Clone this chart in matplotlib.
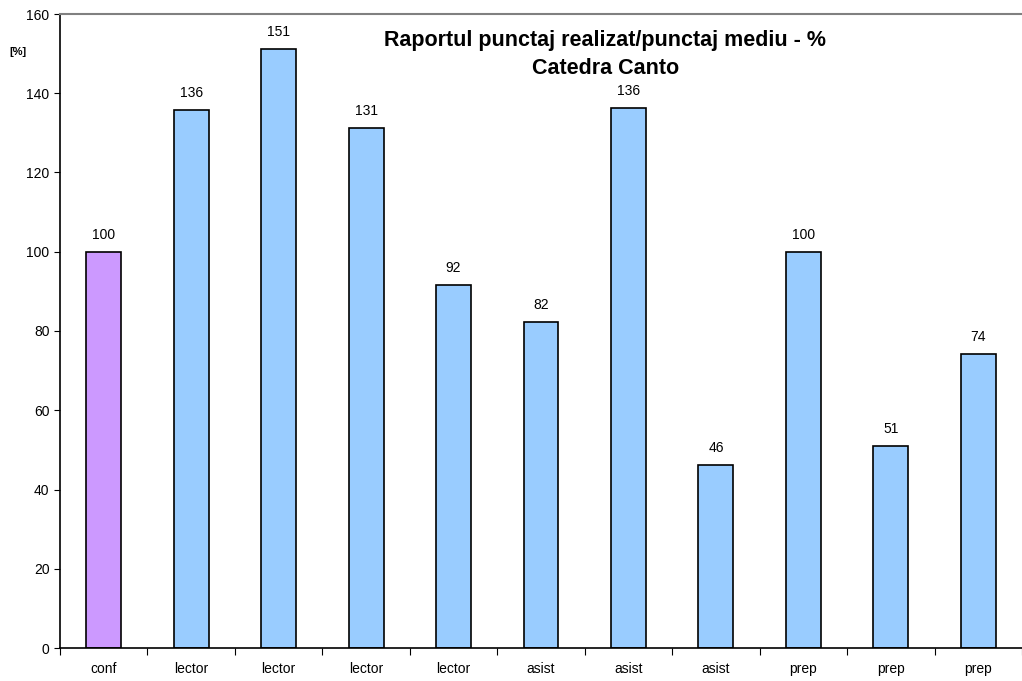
import matplotlib.pyplot as plt
import numpy as np

plt.rcParams['font.family'] = ['Liberation Sans', 'DejaVu Sans']

categorii = ["conf", "lector", "lector", "lector", "lector", "asist",
             "asist", "asist", "prep", "prep", "prep"]
valori = [100, 135.8, 151.2, 131.2, 91.6, 82.3, 136.4, 46.3, 100, 50.9, 74.2]
etichete = ["100", "136", "151", "131", "92", "82", "136", "46", "100", "51", "74"]
culori = ["#CC99FF"] + ["#99CCFF"] * 10

fig = plt.figure(figsize=(10.22, 6.81), dpi=100)
ax = fig.add_axes([60 / 1022, 33 / 681, 962 / 1022, 634 / 681])

x = np.arange(len(categorii))
ax.bar(x, valori, width=0.4, color=culori, edgecolor="black", linewidth=1.2)

for xi, v, t in zip(x, valori, etichete):
    ax.text(xi, v + 2.5, t, ha="center", va="bottom", fontsize=10)

ax.set_xlim(-0.5, len(categorii) - 0.5)
ax.set_ylim(0, 160)
ax.set_yticks(range(0, 161, 20))
ax.tick_params(axis="y", labelsize=10, length=4, direction="out")

# tick-uri intre categorii, etichete la mijloc
ax.set_xticks(np.arange(-0.5, len(categorii), 1.0))
ax.set_xticklabels([])
ax.set_xticks(x, minor=True)
ax.set_xticklabels(categorii, minor=True)
ax.tick_params(axis="x", which="major", length=5, direction="out")
ax.tick_params(axis="x", which="minor", length=0, labelsize=10, pad=10)

ax.spines["right"].set_visible(False)
ax.spines["top"].set_color("#808080")
ax.spines["top"].set_linewidth(1.5)
ax.spines["left"].set_linewidth(1.2)
ax.spines["bottom"].set_linewidth(1.2)

ax.text(0.567, 0.936, "Raportul punctaj realizat/punctaj mediu - %\nCatedra Canto",
        transform=ax.transAxes, ha="center", va="center", fontsize=15.5,
        fontweight="bold", linespacing=1.45)

fig.text(18 / 1022, 1 - 52 / 681, "[%]", fontsize=8, fontweight="bold",
         ha="center", va="center")

fig.savefig("out.png", dpi=100)
